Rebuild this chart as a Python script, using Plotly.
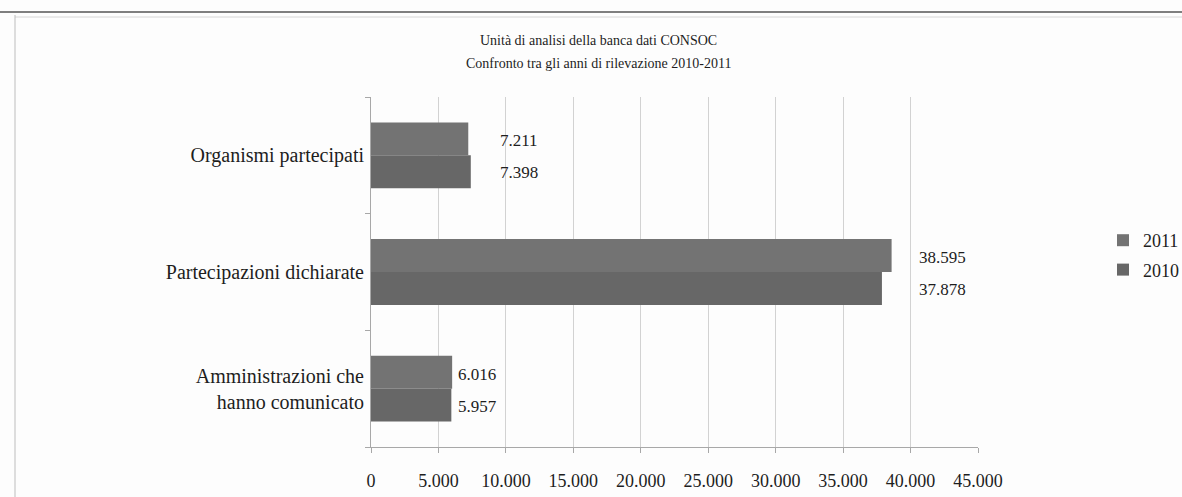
import plotly.graph_objects as go

# Dati: unità di analisi della banca dati CONSOC
categorie = ["Amministrazioni che<br>hanno comunicato", "Partecipazioni dichiarate", "Organismi partecipati"]
valori_2010 = [5957, 37878, 7398]
valori_2011 = [6016, 38595, 7211]
anni = ["2010", "2011"]
etichette_asse_x = [0, 5000, 10000, 15000, 20000, 25000, 30000, 35000, 40000, 45000]
titolo = ["Unità di analisi della banca dati CONSOC",
          "Confronto tra gli anni di rilevazione 2010-2011"]

# Stile
W, H = 1182, 497
ML, MR, MT, MB = 371, 204, 97, 50
FONT = "'Liberation Serif', 'Times New Roman', serif"
COL_2010 = "#676767"
COL_2011 = "#737373"
TXT = "#1e1e1e"
# spostamento orizzontale (px) delle etichette dati per ciascuna categoria
label_pad = [4, 25, 27]


def fmt(v):
    return f"{v:,}".replace(",", ".")


def px_x(p):
    return (p - ML) / (W - ML - MR)


def px_y(p):
    return (H - MB - p) / (H - MT - MB)


fig = go.Figure()
fig.add_trace(go.Bar(y=categorie, x=valori_2010, name=anni[0], orientation="h",
                     legendgroup="a", legendrank=2,
                     marker=dict(color=COL_2010, line=dict(width=0))))
fig.add_trace(go.Bar(y=categorie, x=valori_2011, name=anni[1], orientation="h",
                     legendgroup="b", legendrank=1,
                     marker=dict(color=COL_2011, line=dict(width=0))))

# etichette dati a destra delle barre
bar_h = (H - MT - MB) / len(categorie) * (1 - 0.436) / 2
annotations = []
for i, cat in enumerate(categorie):
    xr = max(valori_2010[i], valori_2011[i])
    for v, dy in ((valori_2011[i], bar_h / 2 - 2), (valori_2010[i], -bar_h / 2 - 1)):
        annotations.append(dict(x=xr, y=cat, xref="x", yref="y", text=fmt(v),
                                showarrow=False, xanchor="left", yanchor="middle",
                                xshift=label_pad[i], yshift=dy,
                                font=dict(family=FONT, size=17, color=TXT)))

# titolo su due righe
for riga, yc in zip(titolo, (40, 64)):
    annotations.append(dict(x=px_x(598), y=px_y(yc), xref="paper", yref="paper",
                            showarrow=False, text=riga, xanchor="center", yanchor="middle",
                            font=dict(family=FONT, size=14, color=TXT)))

shapes = [
    # cornice dell'area del grafico
    dict(type="line", xref="paper", yref="paper", x0=px_x(0), x1=px_x(W), y0=px_y(12), y1=px_y(12),
         line=dict(color="#555555", width=1.5)),
    dict(type="line", xref="paper", yref="paper", x0=px_x(15), x1=px_x(W), y0=px_y(17), y1=px_y(17),
         line=dict(color="#d6d6d6", width=1)),
    dict(type="line", xref="paper", yref="paper", x0=px_x(15), x1=px_x(15), y0=px_y(15), y1=px_y(H),
         line=dict(color="#bdbdbd", width=1)),
]

fig.update_layout(
    width=W, height=H,
    margin=dict(l=ML, r=MR, t=MT, b=MB, pad=0, autoexpand=False),
    paper_bgcolor="#fdfdfd", plot_bgcolor="#fdfdfd",
    barmode="group", bargap=0.436, bargroupgap=0,
    separators=",.",
    font=dict(family=FONT, size=15, color=TXT),
    showlegend=True,
    legend=dict(x=px_x(1103), y=px_y(222), xanchor="left", yanchor="top",
                traceorder="grouped", bgcolor="rgba(0,0,0,0)",
                font=dict(family=FONT, size=18, color=TXT), itemwidth=30,
                tracegroupgap=3),
    annotations=annotations,
    shapes=shapes,
)
fig.update_xaxes(range=[0, 45000], tickvals=etichette_asse_x, tickformat=",.0f",
                 showgrid=True, gridcolor="#d2d2d2", gridwidth=1,
                 showline=True, linecolor="#a8a8a8", linewidth=1,
                 ticks="outside", ticklen=5, tickcolor="#a8a8a8",
                 ticklabelstandoff=12, zeroline=False,
                 tickfont=dict(family=FONT, size=18, color=TXT))
fig.update_yaxes(categoryorder="array", categoryarray=categorie,
                 showline=True, linecolor="#a8a8a8", linewidth=1,
                 ticks="outside", ticklen=5, tickcolor="#a8a8a8", tickson="boundaries",
                 showgrid=False, zeroline=False, ticklabelstandoff=2,
                 tickfont=dict(family=FONT, size=20, color=TXT))

fig.write_html("out.html")
